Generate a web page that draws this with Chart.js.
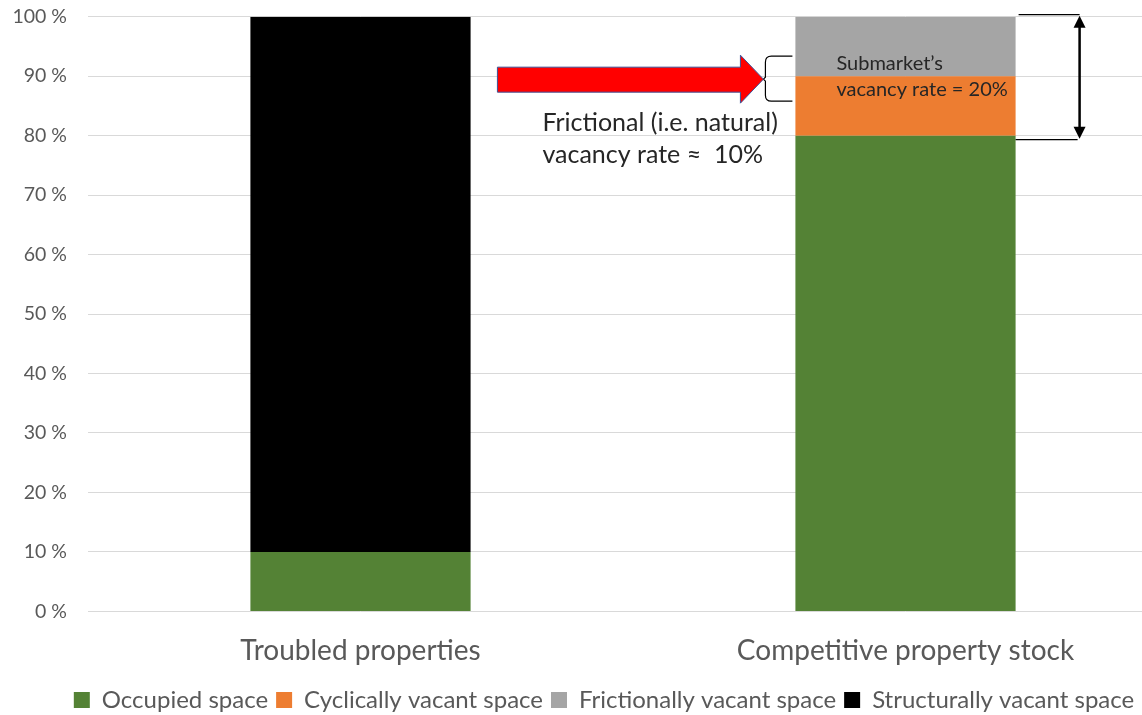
<!DOCTYPE html>
<html>
<head>
<meta charset="utf-8">
<script src="https://cdn.jsdelivr.net/npm/chart.js@4.4.1/dist/chart.umd.min.js"></script>
<style>
  html, body { margin: 0; padding: 0; background: #fff; overflow: hidden; }
  #wrap { position: relative; width: 1178px; height: 741px; margin-top: -16px; }
</style>
</head>
<body>
<div id="wrap"><canvas id="chart"></canvas></div>
<script>
// Vacancy composition by property group (share of stock, %)
const categories = ['Troubled properties', 'Competitive property stock'];
const occupied = [10, 80];
const cyclical = [null, 10];
const frictional = [null, 10];
const structural = [90, null];
const yTicks = [0, 10, 20, 30, 40, 50, 60, 70, 80, 90, 100];

const FONT = 'Lato';
const TEXT_GRAY = '#595959';
const TEXT_DARK = '#262626';

// Arrow, brace and bracket annotations around the competitive bar
const annotations = {
  id: 'annotations',
  beforeDraw(chart) {
    // tuck the legend row up and slightly right
    const lg = chart.legend;
    if (lg && !lg._nudged) {
      lg.left += 15; lg.right += 15;
      lg.top -= 3; lg.bottom -= 3;
      lg._nudged = true;
    }
  },
  afterDatasetsDraw(chart) {
    const { ctx, scales: { y } } = chart;
    const bar = chart.getDatasetMeta(0).data[1];
    const left = bar.x - bar.width / 2;
    const right = bar.x + bar.width / 2;
    const yTop = y.getPixelForValue(100);
    const y80 = y.getPixelForValue(80);
    const y90 = y.getPixelForValue(90);

    ctx.save();

    // brace in front of the frictional segment
    const bx = left - 32;
    const bTop = y90 - 20, bBot = y90 + 25, bMid = y90 + 3;
    ctx.strokeStyle = '#000';
    ctx.lineWidth = 1.2;
    ctx.beginPath();
    ctx.moveTo(left - 3, bTop);
    ctx.lineTo(bx + 8, bTop);
    ctx.quadraticCurveTo(bx + 2, bTop, bx + 2, bTop + 6);
    ctx.lineTo(bx + 2, bMid - 2);
    ctx.lineTo(bx, bMid);
    ctx.lineTo(bx + 2, bMid + 2);
    ctx.lineTo(bx + 2, bBot - 6);
    ctx.quadraticCurveTo(bx + 2, bBot, bx + 8, bBot);
    ctx.lineTo(left - 3, bBot);
    ctx.stroke();

    // red block arrow pointing at the brace
    const tipX = bx, tipY = bMid;
    const headX = tipX - 23, tailX = tipX - 266;
    ctx.beginPath();
    ctx.moveTo(tailX, tipY - 12);
    ctx.lineTo(headX, tipY - 12);
    ctx.lineTo(headX, tipY - 24);
    ctx.lineTo(tipX, tipY);
    ctx.lineTo(headX, tipY + 24);
    ctx.lineTo(headX, tipY + 13);
    ctx.lineTo(tailX, tipY + 13);
    ctx.closePath();
    ctx.fillStyle = '#ff0000';
    ctx.fill();
    ctx.strokeStyle = '#3f5296';
    ctx.lineWidth = 1;
    ctx.stroke();

    // caption under the arrow
    ctx.fillStyle = TEXT_DARK;
    ctx.font = '25px ' + FONT;
    ctx.textAlign = 'left';
    ctx.textBaseline = 'middle';
    ctx.fillText('Frictional (i.e. natural)', left - 253, y80 - 13);
    ctx.fillText('vacancy rate \u2248  10%', left - 253, y80 + 19);

    // label inside the bar
    ctx.font = '20px ' + FONT;
    ctx.fillText('Submarket\u2019s', left + 41, yTop + 47);
    ctx.fillText('vacancy rate = 20%', left + 41, yTop + 73);

    // bracket with double-headed arrow spanning 80–100 %
    const ax = right + 64;
    ctx.strokeStyle = '#000';
    ctx.lineWidth = 1.2;
    ctx.beginPath();
    ctx.moveTo(right + 3, yTop - 2);
    ctx.lineTo(ax, yTop - 2);
    ctx.moveTo(right, y80 + 4);
    ctx.lineTo(ax - 2, y80 + 4);
    ctx.stroke();

    ctx.lineWidth = 2.5;
    ctx.beginPath();
    ctx.moveTo(ax, yTop + 6);
    ctx.lineTo(ax, y80 - 4);
    ctx.stroke();
    ctx.fillStyle = '#000';
    ctx.beginPath();
    ctx.moveTo(ax, yTop - 1);
    ctx.lineTo(ax - 6, yTop + 11);
    ctx.lineTo(ax + 6, yTop + 11);
    ctx.closePath();
    ctx.fill();
    ctx.beginPath();
    ctx.moveTo(ax, y80 + 3);
    ctx.lineTo(ax - 6, y80 - 9);
    ctx.lineTo(ax + 6, y80 - 9);
    ctx.closePath();
    ctx.fill();

    ctx.restore();
  }
};

new Chart(document.getElementById('chart'), {
  type: 'bar',
  data: {
    labels: categories,
    datasets: [
      { label: 'Occupied space', data: occupied, backgroundColor: '#548235' },
      { label: 'Cyclically vacant space', data: cyclical, backgroundColor: '#ed7d31' },
      { label: 'Frictionally vacant space', data: frictional, backgroundColor: '#a5a5a5' },
      { label: 'Structurally vacant space', data: structural, backgroundColor: '#000000' },
    ],
  },
  options: {
    responsive: true,
    maintainAspectRatio: false,
    animation: false,
    barPercentage: 1,
    categoryPercentage: 0.404,
    layout: { padding: { top: 0, left: 0, right: 0, bottom: 0 } },
    plugins: {
      tooltip: { enabled: false },
      legend: {
        position: 'bottom',
        labels: {
          color: TEXT_GRAY,
          font: { family: FONT, size: 24 },
          boxWidth: 16,
          boxHeight: 16,
          padding: 8,
        },
      },
    },
    scales: {
      x: {
        stacked: true,
        grid: { display: false },
        border: { display: false },
        ticks: { color: TEXT_GRAY, font: { family: FONT, size: 28 }, padding: 15 },
      },
      y: {
        stacked: true,
        min: 0,
        max: 100,
        afterBuildTicks: (axis) => { axis.ticks = yTicks.map(v => ({ value: v })); },
        afterFit: (axis) => { axis.width = 88; },
        grid: { color: '#d9d9d9', drawTicks: false },
        border: { display: false },
        ticks: {
          color: TEXT_GRAY,
          font: { family: FONT, size: 19.5 },
          padding: 21,
          callback: (v) => v + ' %',
        },
      },
    },
  },
  plugins: [annotations],
});
</script>
</body>
</html>
